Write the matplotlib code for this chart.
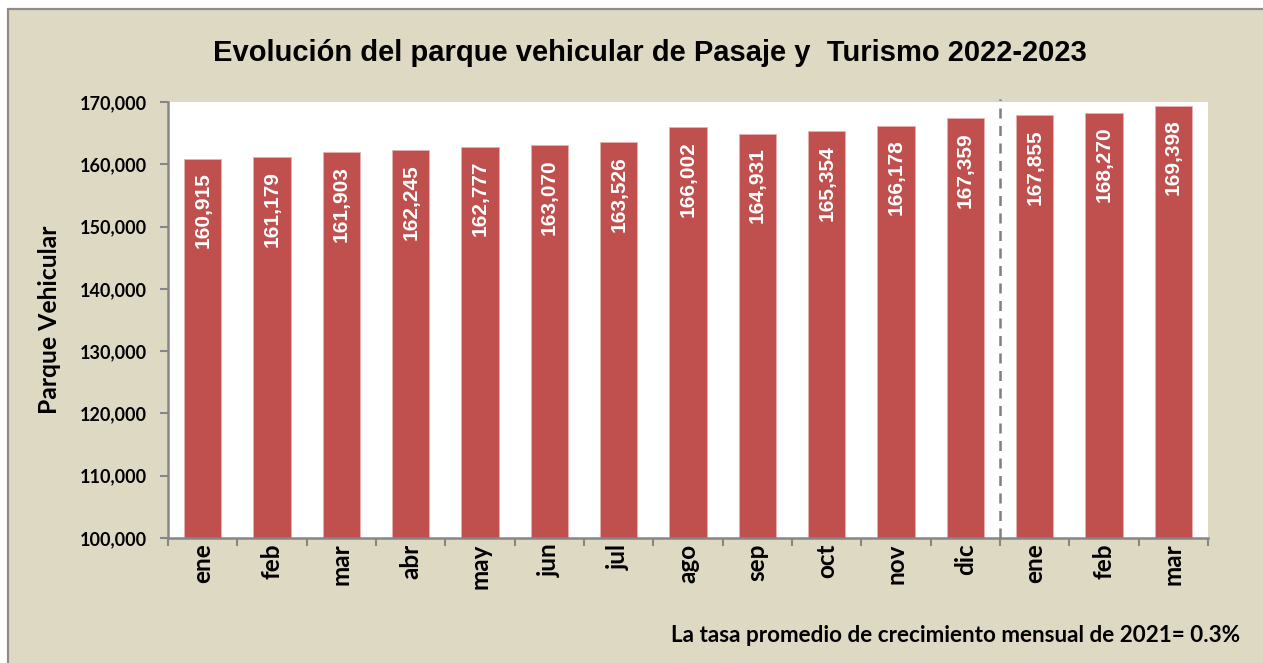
import matplotlib.pyplot as plt
from matplotlib.patches import Rectangle

# Data
meses = ['ene', 'feb', 'mar', 'abr', 'may', 'jun', 'jul', 'ago', 'sep', 'oct',
         'nov', 'dic', 'ene', 'feb', 'mar']
parque = [160915, 161179, 161903, 162245, 162777, 163070, 163526, 166002,
          164931, 165354, 166178, 167359, 167855, 168270, 169398]
yticks = [100000, 110000, 120000, 130000, 140000, 150000, 160000, 170000]

titulo = 'Evolución del parque vehicular de Pasaje y  Turismo 2022-2023'
nota = 'La tasa promedio de crecimiento mensual de 2021= 0.3%'

bg = '#DDD9C3'
bar_color = '#C0504D'
axis_gray = '#868686'

fig = plt.figure(figsize=(12.63, 6.63), dpi=100, facecolor='white')

# beige chart area with gray frame on top/left
W, H = 1263, 663
fig.patches.append(Rectangle((8 / W, -0.05), 1.2, (654 / H) + 0.05,
                             transform=fig.transFigure, facecolor=bg,
                             edgecolor='#8C8C8C', linewidth=1.6, zorder=-10))

ax = fig.add_axes([168 / W, 1 - 538 / H, (1208 - 168) / W, (538 - 102) / H])
ax.set_zorder(1)
ax.set_facecolor('white')

x = list(range(len(meses)))
ax.bar(x, parque, width=0.54, color=bar_color, edgecolor='#E6B0AE',
       linewidth=0.6, zorder=2)

for xi, v in zip(x, parque):
    ax.annotate(f'{v:,}', (xi, v), xytext=(0, -10), textcoords='offset points',
                rotation=90, ha='center', va='top', color='white',
                fontsize=15, fontweight='bold', family='Liberation Sans',
                zorder=3)

ax.set_ylim(100000, 170000)
ax.set_xlim(-0.5, len(meses) - 0.5)
ax.set_yticks(yticks)
ax.set_yticklabels([f'{t:,}' for t in yticks], fontsize=13,
                   fontweight='bold', family='Lato')

# ticks at category boundaries, labels at centers
ax.set_xticks([i - 0.5 for i in range(len(meses) + 1)])
ax.set_xticklabels([])
ax.set_xticks(x, minor=True)
ax.set_xticklabels(meses, minor=True, rotation=90, fontsize=17.5,
                   fontweight='bold', family='Lato')
ax.tick_params(axis='x', which='minor', length=0, pad=4)
ax.tick_params(axis='x', which='major', length=6, color=axis_gray, width=1.5)
ax.tick_params(axis='y', length=6, color=axis_gray, width=1.5, pad=9)

for side in ['top', 'right']:
    ax.spines[side].set_visible(False)
for side in ['left', 'bottom']:
    ax.spines[side].set_color(axis_gray)
    ax.spines[side].set_linewidth(1.8)

# divider between years
ax.plot([11.5, 11.5], [100000, 170500], color='#7F7F7F', linestyle=(0, (4, 3)),
        linewidth=1.8, clip_on=False, zorder=4)

ax.set_ylabel('Parque Vehicular', fontsize=17.8, fontweight='bold',
              family='Lato')
ax.yaxis.set_label_coords(-107 / 1040, 0.5)

fig.text(650 / W, 1 - 53 / H, titulo, ha='center', va='center',
         fontsize=21, fontweight='bold', family='Liberation Sans')
fig.text(1240 / W, 1 - 636 / H, nota, ha='right', va='center',
         fontsize=16.2, fontweight='bold', family='Lato')

fig.savefig('out.png', dpi=100, facecolor='white')
